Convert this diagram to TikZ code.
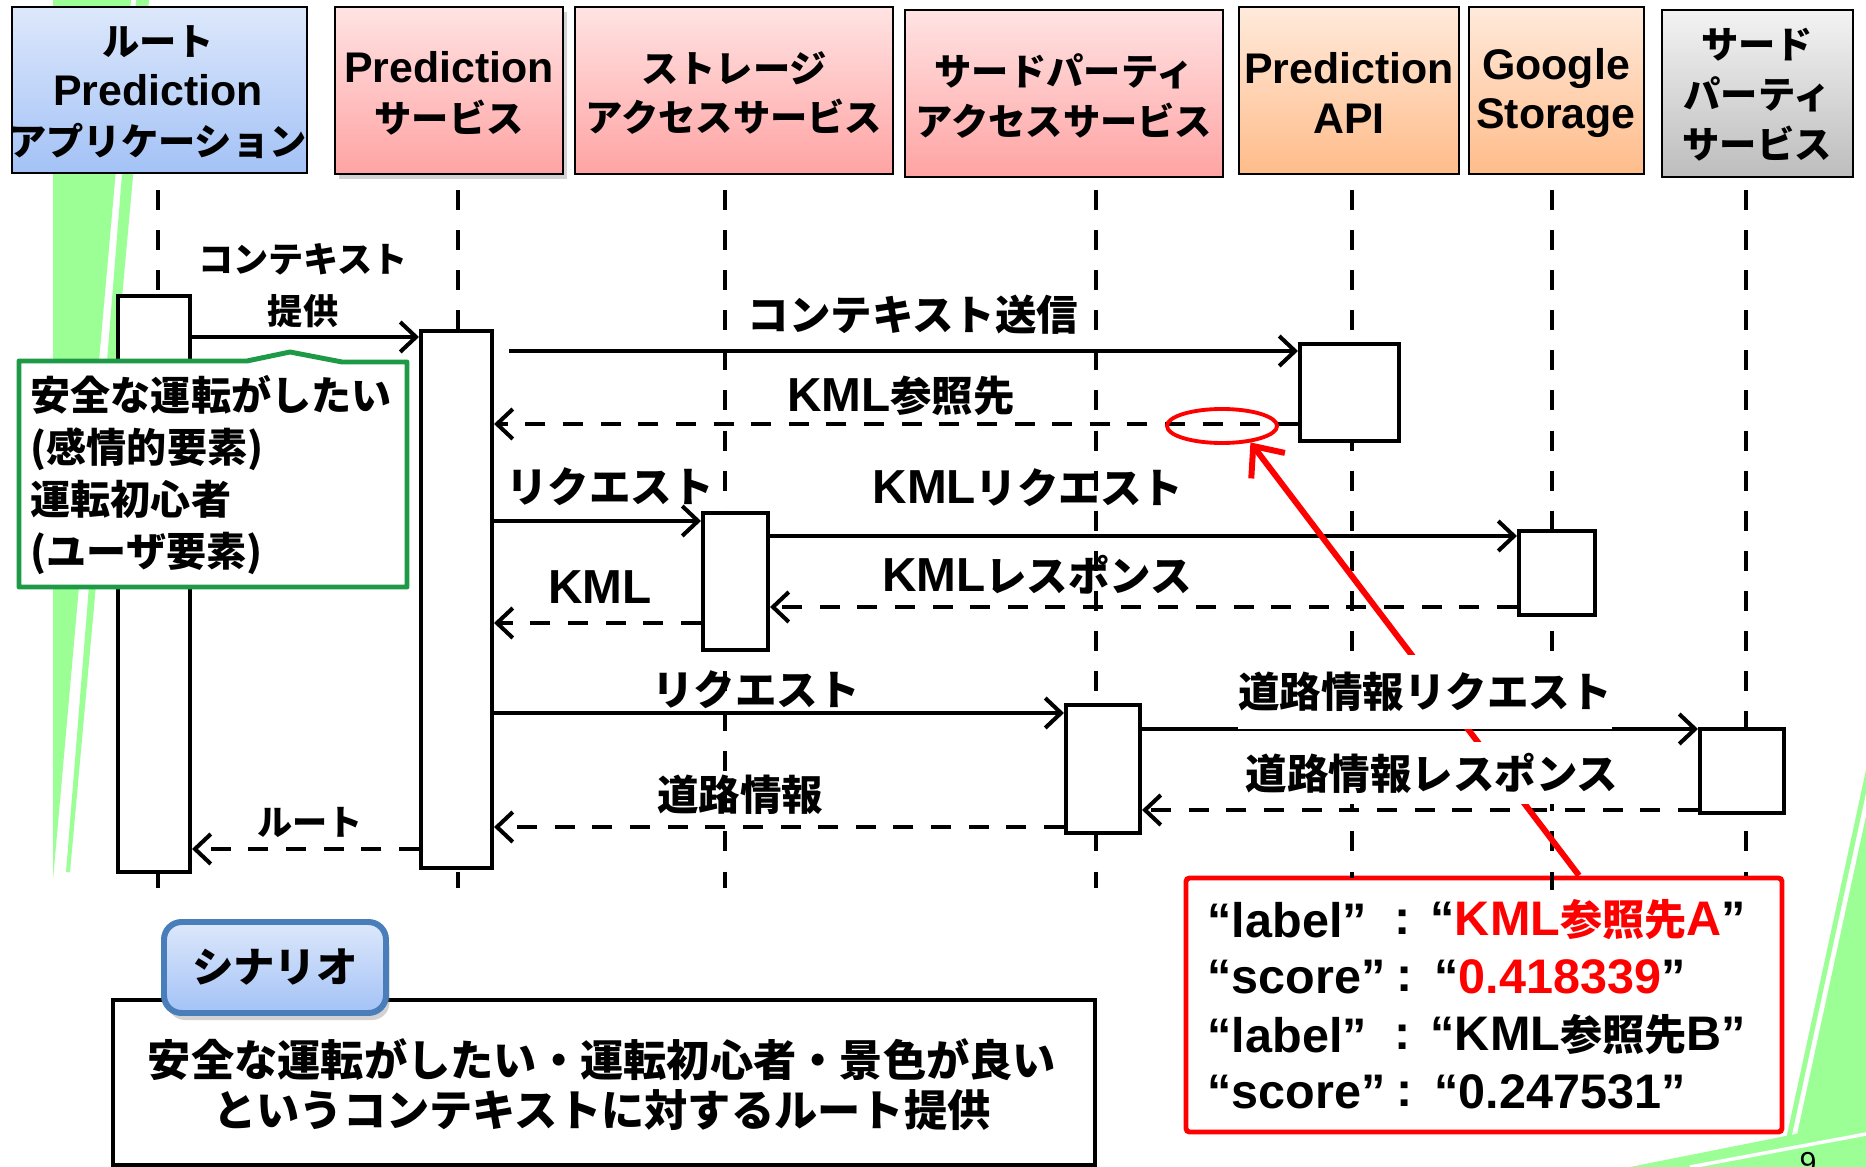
\documentclass[tikz,border=0pt]{standalone}
\usepackage{fontspec}
\setmainfont{Noto Sans CJK JP}
\newfontfamily\latf{Liberation Sans}[Scale=1.15]
\newcommand\lt[1]{{\latf #1}}
\usetikzlibrary{arrows.meta,fit,shadows,shapes.geometric}
\definecolor{bgreen}{HTML}{9CFF96}
\definecolor{notegreen}{HTML}{1E9A47}
\definecolor{tabblue}{HTML}{4A7EBB}
\definecolor{bluetop}{HTML}{DDE8FB}
\definecolor{bluebot}{HTML}{A3C2F6}
\definecolor{pinktop}{HTML}{FFE3E3}
\definecolor{pinkbot}{HTML}{FFA3A3}
\definecolor{orgtop}{HTML}{FFEADB}
\definecolor{orgbot}{HTML}{FFBC8A}
\definecolor{graytop}{HTML}{F3F3F3}
\definecolor{graybot}{HTML}{BDBDBD}
\begin{document}
\begin{tikzpicture}[x=0.01cm,y=-0.01cm,
  hdr/.style={draw=black, line width=0.6pt, inner sep=0pt},
  htext/.style={inner sep=0pt, align=center, font=\fontsize{10.6}{14.2}\selectfont\bfseries},
  hblue/.style={hdr, top color=bluetop, bottom color=bluebot},
  hpink/.style={hdr, top color=pinktop, bottom color=pinkbot},
  horg/.style={hdr, top color=orgtop, bottom color=orgbot},
  hgray/.style={hdr, top color=graytop, bottom color=graybot},
  act/.style={draw=black, fill=white, line width=1.15pt, inner sep=0pt},
  life/.style={line width=1.15pt, dash pattern=on 5.7pt off 5.7pt},
  msg/.style={line width=1.15pt, -{Straight Barb[length=4.5pt,width=8.5pt]}},
  ret/.style={msg, dash pattern=on 5.7pt off 5pt},
  lbl/.style={font=\fontsize{11.8}{14}\selectfont\bfseries, inner sep=0pt},
  slbl/.style={font=\fontsize{10}{14.8}\selectfont\bfseries, inner sep=0pt, align=center},
  rbt/.style={font=\fontsize{12}{14}\selectfont\bfseries, inner sep=0pt},
  redarrow/.style={red, line width=1.7pt, -{Straight Barb[length=7pt,width=12pt]}}
]
\useasboundingbox (0,0) rectangle (1866,1167);
% background decoration
\fill[bgreen] (53,0) -- (131,0) -- (53,880) -- cycle;
\fill[bgreen] (136,0) -- (149,0) -- (70,872) -- (66,872) -- cycle;
\fill[bgreen] (1866,770) -- (1866,793) -- (1785,1167) -- (1780,1167) -- cycle;
\fill[bgreen] (1866,816) -- (1866,1167) -- (1790,1167) -- cycle;
\fill[bgreen] (1630,1167) -- (1866,1120) -- (1866,1167) -- cycle;
\draw[white, line width=1pt] (1690,1167) -- (1866,1134);
\node[font=\fontsize{7.5}{8}\selectfont\latf, anchor=north, inner sep=0pt] (pg) at (1808,1152) {9};

% red result box (drawn under the lifelines)
\node[draw=red, line width=1.4pt, fill=white, inner sep=0pt, rounded corners=1pt,
  fit={(1186,878)(1782,1132)}] (rb) {};

% headers
\node[hblue, fit={(12,7)(307,173)}] (h1) {};
\node[hpink, drop shadow={shadow xshift=1pt, shadow yshift=-1.5pt, opacity=0.35}, fit={(335,7)(563,174)}] (h2) {};
\node[hpink, fit={(575,7)(893,174)}] (h3) {};
\node[hpink, fit={(905,10)(1223,177)}] (h4) {};
\node[horg, fit={(1239,7)(1459,174)}] (h5) {};
\node[horg, fit={(1469,7)(1644,174)}] (h6) {};
\node[hgray, fit={(1662,10)(1853,177)}] (h7) {};
\node[htext] (h1t) at (158,92) {ルート\\\lt{Prediction}\\アプリケーション};
\node[htext] (h2t) at (449,93) {\lt{Prediction}\\サービス};
\node[htext] (h3t) at (734,93) {ストレージ\\アクセスサービス};
\node[htext] (h4t) at (1064,96) {サードパーティ\\アクセスサービス};
\node[htext] (h5t) at (1349,93) {\lt{Prediction}\\\lt{API}};
\node[htext] (h6t) at (1556,93) {\lt{Google}\\\lt{Storage}};
\node[htext] (h7t) at (1757,95) {サード\\パーティ\\サービス};

% lifelines
\coordinate (t1) at (158,190); \coordinate (b1) at (158,888);
\coordinate (t2) at (458,190); \coordinate (b2) at (458,888);
\coordinate (t3) at (725,190); \coordinate (b3) at (725,888);
\coordinate (t4) at (1096,190); \coordinate (b4) at (1096,888);
\coordinate (t5) at (1352,190); \coordinate (b5) at (1352,878);
\coordinate (t6) at (1552,190); \coordinate (b6) at (1552,890);
\coordinate (t7) at (1746,190); \coordinate (b7) at (1746,876);
\foreach \i in {1,...,7} { \draw[life] (t\i) -- (b\i); }

% activation boxes
\node[act, fit={(118,296)(190,872)}] (a1) {};
\node[act, fit={(421,331)(492,868)}] (a2) {};
\node[act, fit={(703,513)(768,650)}] (a3) {};
\node[act, fit={(1066,705)(1140,833)}] (a4) {};
\node[act, fit={(1300,344)(1399,441)}] (a5) {};
\node[act, fit={(1519,531)(1595,615)}] (a6) {};
\node[act, fit={(1700,729)(1784,813)}] (a7) {};

% messages
\draw[msg] (a1.east |- 0,337) -- (a2.west |- 0,337);
\draw[msg, shorten <=4.3pt] (a2.east |- 0,351) -- (a5.west |- 0,351);
\draw[ret] (a5.west |- 0,424) -- (a2.east |- 0,424);
\draw[msg] (a2.east |- 0,521) -- (a3.west |- 0,521);
\draw[msg] (a3.east |- 0,536) -- (a6.west |- 0,536);
\draw[ret] (a6.west |- 0,607) -- (a3.east |- 0,607);
\draw[ret] (a3.west |- 0,623) -- (a2.east |- 0,623);
\draw[msg] (a2.east |- 0,713) -- (a4.west |- 0,713);
\draw[msg] (a4.east |- 0,729) -- (a7.west |- 0,729);
\draw[ret] (a7.west |- 0,810) -- (a4.east |- 0,810);
\draw[ret] (a4.west |- 0,827) -- (a2.east |- 0,827);
\draw[ret] (a2.west |- 0,849) -- (a1.east |- 0,849);

% green note
\draw[notegreen, line width=1.4pt, fill=white, line join=round]
  (19,361) -- (247,361) -- (290,352) -- (342,362) -- (407,362) -- (407,587) -- (19,587) -- cycle;
\node[anchor=west, align=left, inner sep=0pt, font=\fontsize{11.4}{14.7}\selectfont\bfseries] (nt) at (30,475)
  {安全な運転がしたい\\(感情的要素)\\運転初心者\\(ユーザ要素)};

% red ellipse and pointer
\node[draw=red, line width=1.1pt, ellipse, minimum width=1.1cm, minimum height=0.34cm, inner sep=0pt] (ell) at (1222,426) {};
\draw[redarrow] (rb.north -| 1579,0) -- (ell.-30);

% message labels
\node[slbl] (l1) at (303,286) {コンテキスト\\提供};
\node[lbl] (l2) at (913,315) {コンテキスト送信};
\node[lbl] (l3) at (901,396) {\lt{KML}参照先};
\node[lbl] (l4) at (610,487) {リクエスト};
\node[lbl] (l5) at (1028,488) {\lt{KML}リクエスト};
\node[lbl] (l6) at (1037,575) {\lt{KML}レスポンス};
\node[lbl] (l7) at (600,587) {\lt{KML}};
\node[lbl] (l8) at (756,690) {リクエスト};
\node[lbl, fill=white, inner ysep=5pt] (l9) at (1425,692) {道路情報リクエスト};
\node[lbl, fill=white, inner ysep=3pt] (l10) at (1432,773) {道路情報レスポンス};
\node[lbl] (l11) at (740,795) {道路情報};
\node[slbl] (l12) at (310,822) {ルート};

% scenario
\node[draw=black, line width=1.3pt, fill=white, inner sep=0pt, fit={(113,1000)(1095,1165)}] (sbox) {};
\node[align=center, inner sep=0pt, font=\fontsize{12.3}{14.2}\selectfont\bfseries] (stext) at (602,1085)
  {安全な運転がしたい・運転初心者・景色が良い\\というコンテキストに対するルート提供};
\node[draw=tabblue, line width=1.7pt, rounded corners=5pt, top color=bluetop, bottom color=bluebot,
  drop shadow={shadow xshift=1pt, shadow yshift=-2pt, opacity=0.35},
  inner sep=0pt, fit={(164,922)(386,1013)}] (tab) {};
\node[inner sep=0pt, font=\fontsize{11.8}{14}\selectfont\bfseries] (tabt) at (275,967) {シナリオ};

% red box text
\node[rbt, anchor=west] (k1) at (1207,920) {\lt{“label”}};
\node[rbt, anchor=west] (k2) at (1207,977) {\lt{“score”}};
\node[rbt, anchor=west] (k3) at (1207,1035) {\lt{“label”}};
\node[rbt, anchor=west] (k4) at (1207,1092) {\lt{“score”}};
\node[rbt] (c1) at (1403,922) {\lt{:}};
\node[rbt] (c2) at (1405,979) {\lt{:}};
\node[rbt] (c3) at (1403,1037) {\lt{:}};
\node[rbt] (c4) at (1405,1094) {\lt{:}};
\node[rbt, anchor=west] (v1) at (1430,920) {\lt{“}\textcolor{red}{\lt{KML}参照先\lt{A}}\lt{”}};
\node[rbt, anchor=west] (v2) at (1434,977) {\lt{“}\textcolor{red}{\lt{0.418339}}\lt{”}};
\node[rbt, anchor=west] (v3) at (1430,1035) {\lt{“KML}参照先\lt{B”}};
\node[rbt, anchor=west] (v4) at (1434,1092) {\lt{“0.247531”}};
\end{tikzpicture}
\end{document}
